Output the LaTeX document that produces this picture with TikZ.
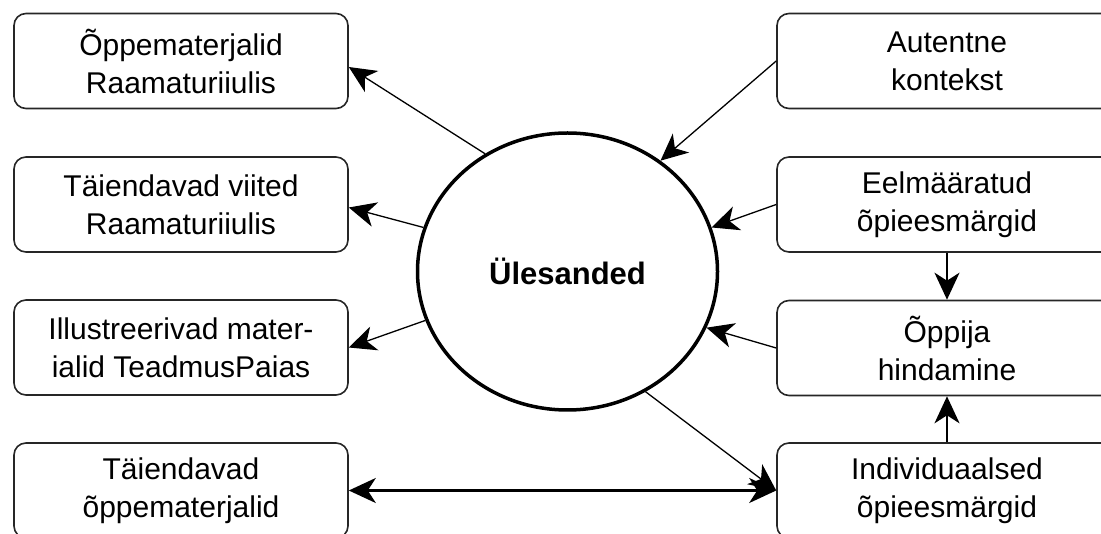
\documentclass[tikz,border=0pt]{standalone}
\usepackage{fontspec}
\setmainfont{Liberation Sans}
\usetikzlibrary{arrows.meta,shapes.geometric}
\begin{document}
\begin{tikzpicture}[x=1pt,y=-1pt,
  box/.style={draw=black!85, line width=1.6pt, rounded corners=12pt,
    minimum width=334pt, minimum height=95pt, align=center, inner sep=0pt,
    font=\fontsize{30}{38}\selectfont},
  rbox/.style={box, minimum width=340pt},
  task/.style={ellipse, draw, line width=3.5pt, minimum width=300pt,
    minimum height=277pt, inner sep=0pt, font=\bfseries\fontsize{31}{38}\selectfont},
  bigtip/.tip={Stealth[length=27pt,width=25pt,inset=8pt]},
  link/.style={line width=1.3pt, -bigtip},
  heavy/.style={line width=2.4pt, -bigtip},
]
\useasboundingbox (0,0) rectangle (1101,534);
\clip (0,0) rectangle (1101,534);

% central task node
\node[task] (task) at (567.5,271.5) {Ülesanded};

% resources on the left
\node[box] (L1) at (181,61)    {Õppematerjalid\\Raamaturiiulis};
\node[box] (L2) at (181,204.5) {Täiendavad viited\\Raamaturiiulis};
\node[box] (L3) at (181,347.5) {Illustreerivad mater-\\ialid TeadmusPaias};
\node[box] (L4) at (181,490.5) {Täiendavad\\õppematerjalid};

% inputs on the right
\node[rbox] (R1) at (947,61)    {Autentne\\kontekst};
\node[rbox] (R2) at (947,204.5) {Eelmääratud\\õpieesmärgid};
\node[rbox] (R3) at (947,348)   {Õppija\\hindamine};
\node[rbox] (R4) at (947,490.5) {Individuaalsed\\õpieesmärgid};

% task to resources
\draw[link] (task.125.3) -- ([yshift=-6pt]L1.east);
\draw[link] (task.163.9) -- ([yshift=-3pt]L2.east);
\draw[link] (task.199.6) -- (L3.east);
\draw[link] (task.-57.2) -- (R4.west);

% inputs to task
\draw[link] (R1.west) -- (task.50.5);
\draw[link] (R2.west) -- (task.17);
\draw[link] (R3.west) -- (task.-22.4);

% links between the right-hand boxes
\draw[heavy] (R2.south) -- (R3.north);
\draw[heavy] (R4.north) -- (R3.south);
\draw[heavy, bigtip-bigtip] (L4.east) -- (R4.west);
\end{tikzpicture}
\end{document}
